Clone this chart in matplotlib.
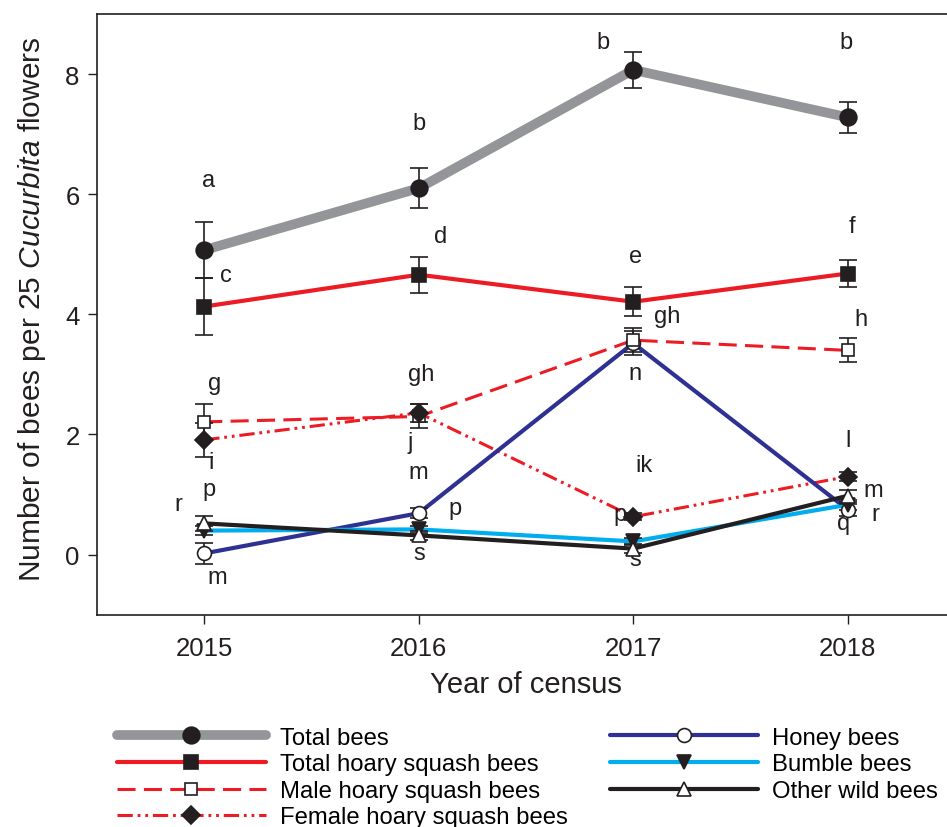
import matplotlib
matplotlib.use("Agg")
import matplotlib.pyplot as plt
from matplotlib.lines import Line2D

plt.rcParams["font.family"] = "Liberation Sans"
plt.rcParams["mathtext.fontset"] = "custom"
plt.rcParams["mathtext.rm"] = "Liberation Sans"
plt.rcParams["mathtext.it"] = "Liberation Sans:italic"
plt.rcParams["lines.scale_dashes"] = False

years = [2015, 2016, 2017, 2018]

total = [5.07, 6.10, 8.07, 7.28]
total_err = [0.46, 0.33, 0.30, 0.26]
hoary = [4.13, 4.66, 4.21, 4.68]
hoary_err = [0.47, 0.30, 0.24, 0.23]
male = [2.21, 2.30, 3.57, 3.40]
male_err = [0.30, 0.20, 0.20, 0.20]
female = [1.91, 2.36, 0.63, 1.30]
female_err = [0.28, 0.15, 0.06, 0.08]
honey = [0.02, 0.69, 3.52, 0.75]
honey_err = [0.17, 0.08, 0.20, 0.10]
bumble = [0.40, 0.42, 0.22, 0.83]
bumble_err = [0.08, 0.06, 0.06, 0.08]
other = [0.52, 0.32, 0.10, 0.98]
other_err = [0.12, 0.07, 0.08, 0.10]

# significance letters: (x, y, label)
letters = [
    (2015.02, 6.23, "a"), (2015.10, 4.65, "c"), (2015.05, 2.85, "g"),
    (2015.03, 1.55, "i"), (2015.02, 1.10, "p"), (2014.88, 0.85, "r"),
    (2015.06, -0.37, "m"),
    (2016.00, 7.18, "b"), (2016.10, 5.30, "d"), (2016.01, 3.00, "gh"),
    (2015.96, 1.88, "j"), (2016.00, 1.38, "m"), (2016.17, 0.77, "p"),
    (2016.00, 0.02, "s"),
    (2016.86, 8.53, "b"), (2017.01, 4.97, "e"), (2017.16, 3.97, "gh"),
    (2017.01, 3.03, "n"), (2017.05, 1.50, "ik"), (2016.94, 0.67, "p"),
    (2017.01, -0.08, "s"),
    (2017.99, 8.53, "b"), (2018.02, 5.47, "f"), (2018.06, 3.93, "h"),
    (2018.00, 1.90, "l"), (2018.12, 1.08, "m"), (2018.13, 0.68, "r"),
    (2017.98, 0.52, "q"),
]

GREY = "#939598"
RED = "#ED1C24"
NAVY = "#2E3192"
CYAN = "#00AEEF"
INK = "#231F20"

DASH_MALE = (0, (13, 6))
DASH_FEMALE = (0, (11, 3.5, 2, 3.5, 2, 3.5))

series = [
    # label, y, err, color, lw, linestyle, marker, ms, face, marker z
    ("Total bees", total, total_err, GREY, 7, "-", "o", 12, INK, 4.5),
    ("Total hoary squash bees", hoary, hoary_err, RED, 3, "-", "s", 10, INK, 4.4),
    ("Male hoary squash bees", male, male_err, RED, 2.2, DASH_MALE, "s", 9, "white", 4.6),
    ("Female hoary squash bees", female, female_err, RED, 2.2, DASH_FEMALE, "D", 9, INK, 4.7),
    ("Honey bees", honey, honey_err, NAVY, 3, "-", "o", 10, "white", 4.1),
    ("Bumble bees", bumble, bumble_err, CYAN, 3, "-", "v", 10, INK, 4.2),
    ("Other wild bees", other, other_err, INK, 3, "-", "^", 10, "white", 4.3),
]

fig = plt.figure(figsize=(9.47, 8.28), dpi=100)
ax = fig.add_axes([97 / 947, 1 - 615.7 / 828, 858 / 947, 600.7 / 828])

handles = []
for label, y, err, color, lw, ls, mk, ms, face, mz in series:
    ax.plot(years, y, color=color, lw=lw, ls=ls, solid_capstyle="round",
            dash_capstyle="butt", zorder=2)
    ax.errorbar(years, y, yerr=err, fmt="none", ecolor=INK, elinewidth=1.2,
                capsize=6.5, capthick=1.2, zorder=3)
    ax.plot(years, y, ls="none", marker=mk, ms=ms, mfc=face, mec=INK,
            mew=1.2, zorder=mz)
    handles.append(Line2D([], [], color=color, lw=lw, ls=ls, marker=mk, ms=ms,
                          mfc=face, mec=INK, mew=1.2, solid_capstyle="round",
                          dash_capstyle="butt"))

for x, y, t in letters:
    ax.text(x, y, t, ha="center", va="center", fontsize=17, color=INK)

ax.set_xlim(2014.5, 2018.5)
ax.set_ylim(-1, 9)
ax.set_xticks(years)
ax.set_yticks([0, 2, 4, 6, 8])
ax.tick_params(direction="out", length=6.5, width=1, color=INK,
               labelsize=18.5, labelcolor=INK)
ax.tick_params(axis="x", pad=9)
ax.tick_params(axis="y", pad=6)
for s in ax.spines.values():
    s.set_color(INK)
    s.set_linewidth(1.2)

ax.set_xlabel("Year of census", fontsize=21, color=INK, labelpad=7)
ax.set_ylabel(r"Number of bees per 25 $\it{Cucurbita}$ flowers", fontsize=21.5,
              color=INK)
ax.yaxis.set_label_coords(-0.057, 0.51)

fig.legend(handles, [s[0] for s in series], ncol=2, loc="upper left",
           bbox_to_anchor=(0.124, 0.121), frameon=False, fontsize=17.2,
           handlelength=6.2, handletextpad=0.6, columnspacing=1.75,
           labelspacing=0.19, borderpad=0, borderaxespad=0, numpoints=1)

fig.savefig("out.png", dpi=100)
